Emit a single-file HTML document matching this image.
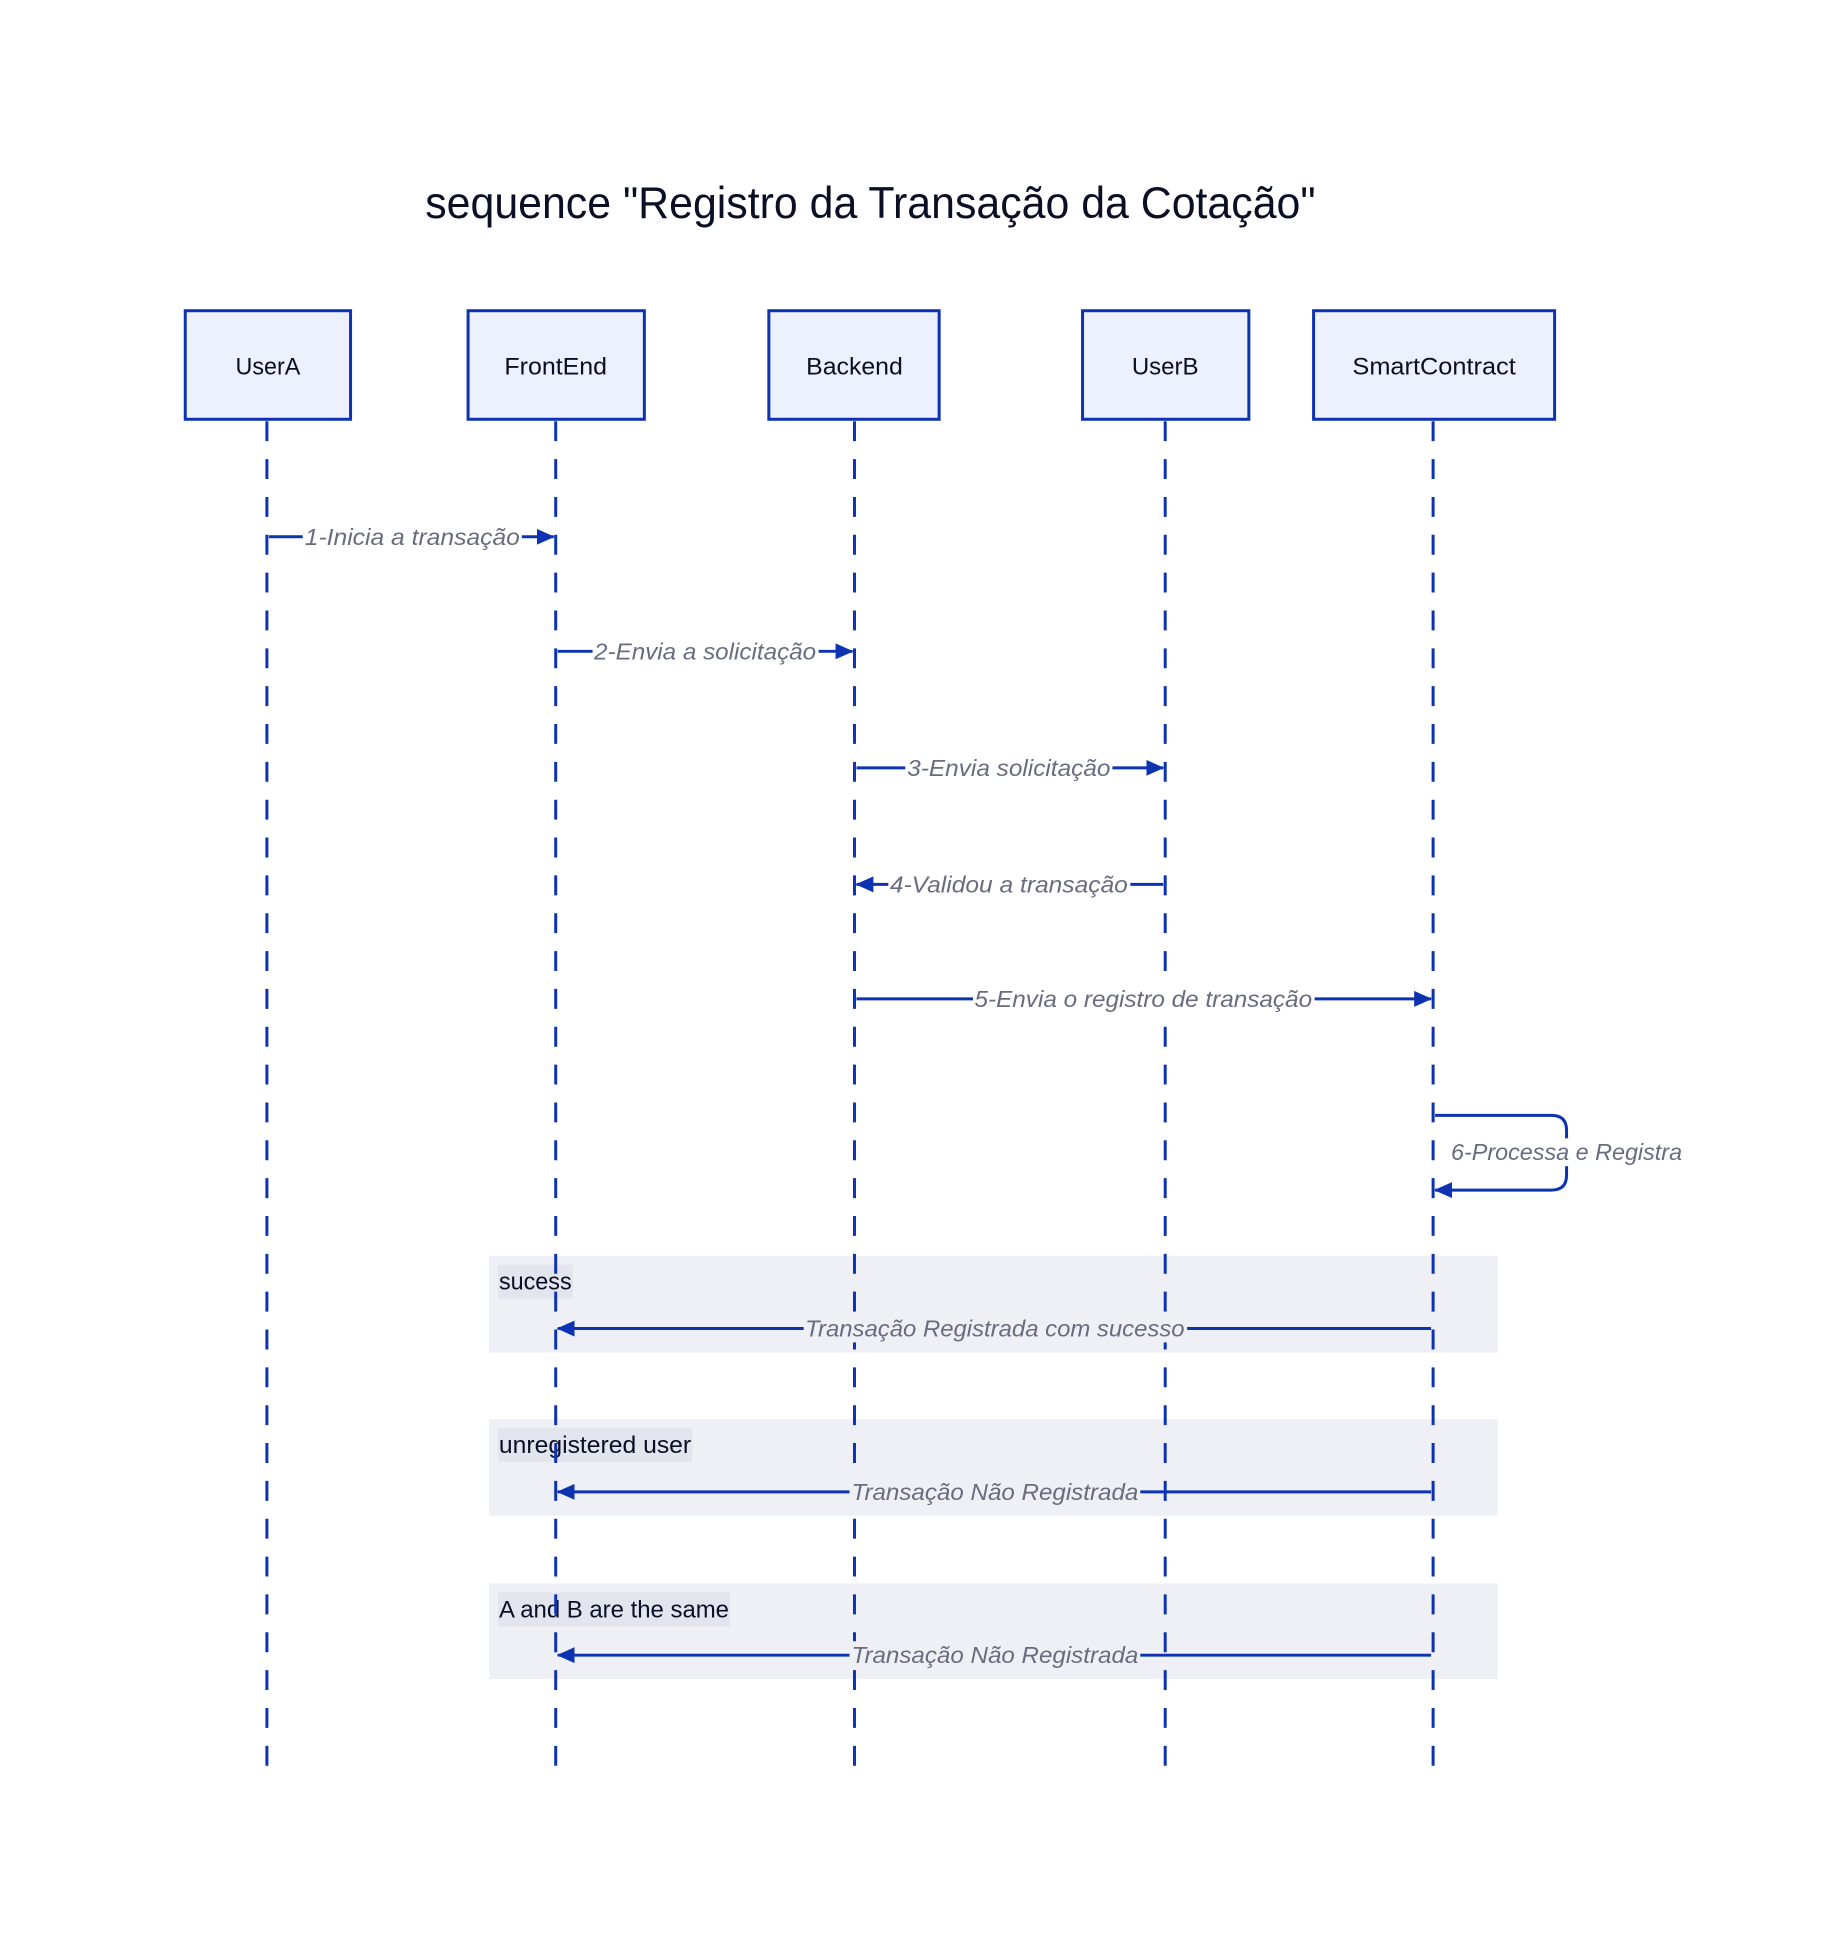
<!DOCTYPE html>
<html><head><meta charset="utf-8"><style>html,body{margin:0;padding:0;background:#fff}</style></head>
<body>
<svg width="1843" height="1951" viewBox="0 0 1843 1951" xmlns="http://www.w3.org/2000/svg">
<defs>
<marker id="a" markerWidth="18" markerHeight="16" refX="17" refY="8" orient="auto" markerUnits="userSpaceOnUse"><path d="M0,0 L18,8 L0,16 Z" fill="#0d32b2"/></marker>
</defs>
<rect width="1843" height="1951" fill="#fff"/>
<g transform="scale(0.9959)">
<text x="874" y="219" text-anchor="middle" font-family="Liberation Sans, sans-serif" font-size="45" fill="#0a0f25" textLength="894" lengthAdjust="spacingAndGlyphs">sequence "Registro da Transação da Cotação"</text>
<g fill="#eff0f5">
<rect x="491" y="1261" width="1013" height="97"/>
<rect x="491" y="1425" width="1013" height="97"/>
<rect x="491" y="1590" width="1013" height="96"/>
</g>
<g fill="#e2e4ee">
<rect x="500" y="1270" width="75" height="34"/>
<rect x="500" y="1434" width="195" height="34"/>
<rect x="500" y="1599" width="233" height="34"/>
</g>
<g font-family="Liberation Sans, sans-serif" font-size="24" fill="#0a0f25">
<text x="501" y="1295" textLength="73" lengthAdjust="spacingAndGlyphs">sucess</text>
<text x="501" y="1459" textLength="193" lengthAdjust="spacingAndGlyphs">unregistered user</text>
<text x="501" y="1624" textLength="231" lengthAdjust="spacingAndGlyphs">A and B are the same</text>
</g>
<g stroke="#0d32b2" stroke-width="3" stroke-dasharray="20,18" fill="none">
<line x1="268" y1="423" x2="268" y2="1778"/>
<line x1="558" y1="423" x2="558" y2="1778"/>
<line x1="858" y1="423" x2="858" y2="1778"/>
<line x1="1170" y1="423" x2="1170" y2="1778"/>
<line x1="1439" y1="423" x2="1439" y2="1778"/>
</g>
<g fill="#edf0fd" stroke="#0d32b2" stroke-width="3">
<rect x="186" y="312" width="166" height="109"/>
<rect x="470" y="312" width="177" height="109"/>
<rect x="772" y="312" width="171" height="109"/>
<rect x="1087" y="312" width="167" height="109"/>
<rect x="1319" y="312" width="242" height="109"/>
</g>
<g font-family="Liberation Sans, sans-serif" font-size="24" fill="#0a0f25" text-anchor="middle">
<text x="269" y="376" textLength="65" lengthAdjust="spacingAndGlyphs">UserA</text>
<text x="558" y="376" textLength="103" lengthAdjust="spacingAndGlyphs">FrontEnd</text>
<text x="858" y="376" textLength="97" lengthAdjust="spacingAndGlyphs">Backend</text>
<text x="1170" y="376" textLength="67" lengthAdjust="spacingAndGlyphs">UserB</text>
<text x="1440" y="376" textLength="164" lengthAdjust="spacingAndGlyphs">SmartContract</text>
</g>
<g stroke="#0d32b2" stroke-width="3" fill="none" marker-end="url(#a)">
<line x1="270" y1="539" x2="556" y2="539"/>
<line x1="560" y1="654" x2="856" y2="654"/>
<line x1="860" y1="771" x2="1168" y2="771"/>
<line x1="1168" y1="888" x2="860" y2="888"/>
<line x1="860" y1="1003" x2="1437" y2="1003"/>
<path d="M1441,1120 H1558 Q1573,1120 1573,1135 V1180 Q1573,1195 1558,1195 H1441"/>
<line x1="1437" y1="1334" x2="560" y2="1334"/>
<line x1="1437" y1="1498" x2="560" y2="1498"/>
<line x1="1437" y1="1662" x2="560" y2="1662"/>
</g>
<g fill="#fff">
<rect x="304" y="525" width="220" height="28"/>
<rect x="595" y="640" width="227" height="28"/>
<rect x="909" y="757" width="208" height="28"/>
<rect x="892" y="874" width="243" height="28"/>
<rect x="977" y="989" width="343" height="28"/>
<rect x="1453" y="1143" width="240" height="28"/>
</g>
<g fill="#eff0f5">
<rect x="807" y="1320" width="385" height="28"/>
<rect x="853" y="1484" width="292" height="28"/>
<rect x="853" y="1648" width="292" height="28"/>
</g>
<g font-family="Liberation Sans, sans-serif" font-size="23" font-style="italic" fill="#676c7f" text-anchor="middle">
<text x="414" y="547" textLength="216" lengthAdjust="spacingAndGlyphs">1-Inicia a transação</text>
<text x="708" y="662" textLength="223" lengthAdjust="spacingAndGlyphs">2-Envia a solicitação</text>
<text x="1013" y="779" textLength="204" lengthAdjust="spacingAndGlyphs">3-Envia solicitação</text>
<text x="1013" y="896" textLength="239" lengthAdjust="spacingAndGlyphs">4-Validou a transação</text>
<text x="1148" y="1011" textLength="339" lengthAdjust="spacingAndGlyphs">5-Envia o registro de transação</text>
<text x="1573" y="1165" textLength="232" lengthAdjust="spacingAndGlyphs">6-Processa e Registra</text>
<text x="999" y="1342" textLength="381" lengthAdjust="spacingAndGlyphs">Transação Registrada com sucesso</text>
<text x="999" y="1506" textLength="288" lengthAdjust="spacingAndGlyphs">Transação Não Registrada</text>
<text x="999" y="1670" textLength="288" lengthAdjust="spacingAndGlyphs">Transação Não Registrada</text>
</g>
</g>
</svg>
</body></html>
